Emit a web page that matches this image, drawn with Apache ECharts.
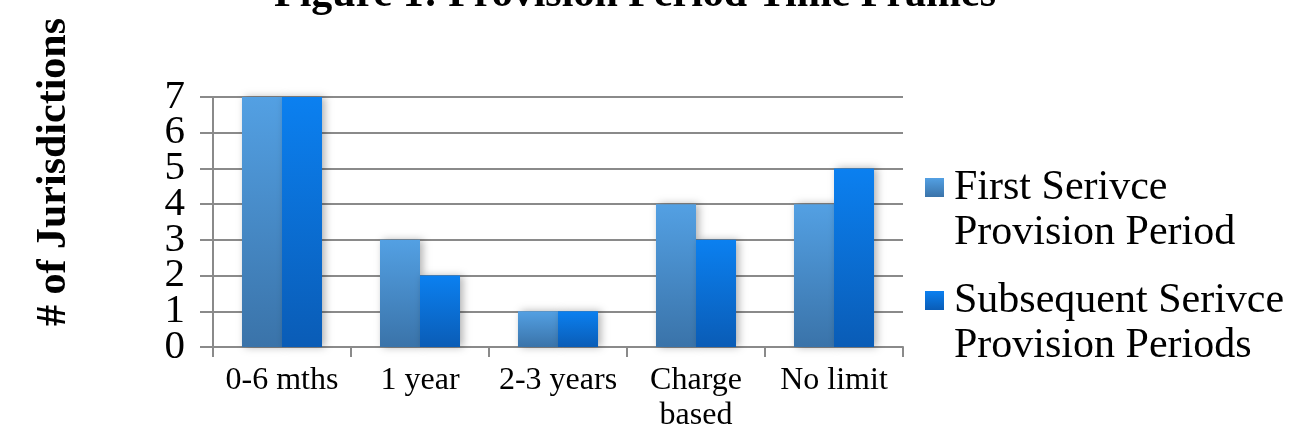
<!DOCTYPE html>
<html>
<head>
<meta charset="utf-8">
<script src="https://cdn.jsdelivr.net/npm/echarts@6/dist/echarts.min.js"></script>
<style>
  html, body { margin: 0; padding: 0; background: #fff; }
  #chart { width: 1295px; height: 434px; }
</style>
</head>
<body>
<div id="chart"></div>
<script>
// Provision period time frames, number of jurisdictions per category
const categories = ['0-6 mths', '1 year', '2-3 years', 'Charge\nbased', 'No limit'];
const firstPeriod = [7, 3, 1, 4, 4];
const subsequentPeriods = [7, 2, 1, 3, 5];
const seriesNames = ['First Serivce Provision Period', 'Subsequent Serivce Provision Periods'];
const legendLines = {
  'First Serivce Provision Period': ['First Serivce', 'Provision Period'],
  'Subsequent Serivce Provision Periods': ['Subsequent Serivce', 'Provision Periods']
};
const yMin = 0, yMax = 7, yStep = 1;

const serif = '"Liberation Serif", "Times New Roman", serif';

function vGrad(top, bottom) {
  return new echarts.graphic.LinearGradient(0, 0, 0, 1, [
    { offset: 0, color: top },
    { offset: 1, color: bottom }
  ]);
}

// The large tick numbers sit closer together than their font height, so even
// and odd values are labelled by two coincident axes to keep every number shown.
function tickLabels(parity) {
  return {
    margin: 28,
    fontFamily: serif, fontSize: 41, color: '#000',
    showMinLabel: true, showMaxLabel: true,
    formatter: v => (v % 2 === parity ? String(v) : '')
  };
}

const chart = echarts.init(document.getElementById('chart'), null, { renderer: 'canvas' });

chart.setOption({
  animation: false,
  backgroundColor: '#ffffff',
  graphic: [
    {
      type: 'text',
      x: 635, y: 16,
      style: {
        text: 'Figure 1: Provision Period Time Frames',
        font: 'bold 42px ' + serif,
        fill: '#000',
        align: 'center',
        verticalAlign: 'bottom'
      }
    },
    {
      type: 'text',
      x: 54, y: 172,
      rotation: Math.PI / 2,
      style: {
        text: '# of Jurisdictions',
        font: 'bold 42px ' + serif,
        fill: '#000',
        align: 'center',
        verticalAlign: 'middle'
      }
    }
  ],
  grid: { left: 213, right: 392, top: 97, bottom: 87, containLabel: false },
  legend: {
    orient: 'vertical',
    left: 925,
    top: 120,
    padding: 0,
    icon: 'rect',
    itemWidth: 19,
    itemHeight: 19,
    itemGap: -22,
    data: seriesNames,
    formatter: name => '\n' + legendLines[name].join('\n'),
    textStyle: { fontFamily: serif, fontSize: 42, lineHeight: 45, color: '#000', padding: [0, 0, 0, 5] }
  },
  xAxis: {
    type: 'category',
    data: categories,
    axisLine: { show: true, lineStyle: { color: '#8a8a8a', width: 2 } },
    axisTick: { show: true, alignWithLabel: false, length: 10, lineStyle: { color: '#8a8a8a', width: 2 } },
    axisLabel: { fontFamily: serif, fontSize: 32, lineHeight: 35, color: '#000', margin: 16, interval: 0 }
  },
  yAxis: [
    {
      type: 'value',
      position: 'left',
      min: yMin, max: yMax, interval: yStep,
      axisLine: { show: true, lineStyle: { color: '#8a8a8a', width: 2 } },
      axisTick: { show: true, length: 13, lineStyle: { color: '#8a8a8a', width: 2 } },
      splitLine: { show: true, lineStyle: { color: '#8a8a8a', width: 2 } },
      axisLabel: tickLabels(0)
    },
    {
      type: 'value',
      position: 'left',
      offset: 0,
      min: yMin, max: yMax, interval: yStep,
      axisLine: { show: false },
      axisTick: { show: false },
      splitLine: { show: false },
      axisLabel: tickLabels(1)
    }
  ],
  series: [
    {
      name: seriesNames[0],
      type: 'bar',
      data: firstPeriod,
      barGap: 0,
      barCategoryGap: '42%',
      itemStyle: {
        color: vGrad('#53a0e3', '#3a73a9'),
        shadowColor: 'rgba(0,0,0,0.3)', shadowBlur: 8, shadowOffsetX: 3
      }
    },
    {
      name: seriesNames[1],
      type: 'bar',
      data: subsequentPeriods,
      barGap: 0,
      barCategoryGap: '42%',
      itemStyle: {
        color: vGrad('#0b80f0', '#0a5cb6'),
        shadowColor: 'rgba(0,0,0,0.3)', shadowBlur: 8, shadowOffsetX: 3
      }
    }
  ]
});
</script>
</body>
</html>
